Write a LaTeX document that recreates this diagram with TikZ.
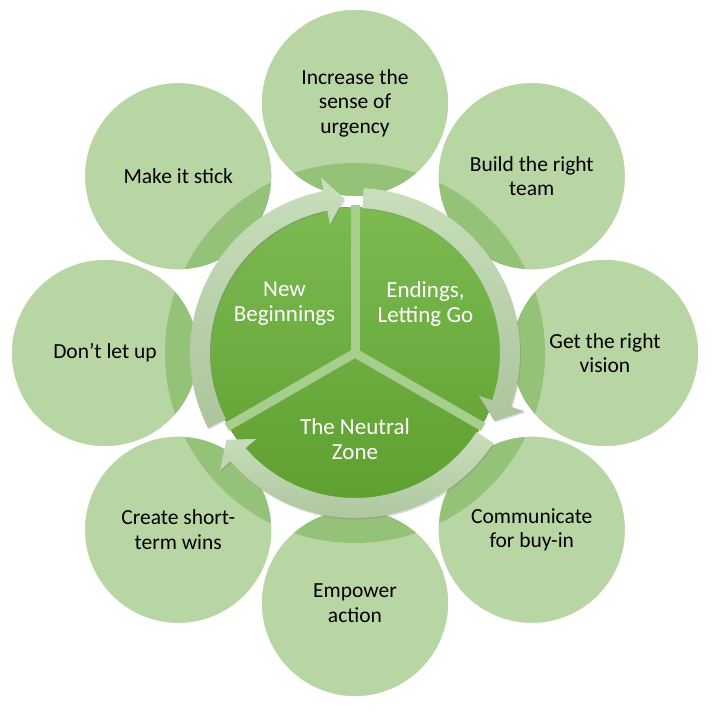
\documentclass[tikz,border=0pt]{standalone}
\usepackage{fontspec}
\setmainfont{Carlito}
\usepackage{tikz}
\usetikzlibrary{positioning,calc,shadows}
\usepackage{xcolor}
\definecolor{petalgreen}{RGB}{184,214,163}
\definecolor{ringgreen}{RGB}{147,194,120}
\definecolor{arrowtop}{RGB}{200,222,188}
\definecolor{arrowbottom}{RGB}{172,197,156}
\definecolor{pietop}{RGB}{124,186,82}
\definecolor{piebottom}{RGB}{95,160,48}
\definecolor{gapgreen}{RGB}{168,206,142}
\tikzset{
    stepcirc/.style={circle, draw=white, line width=1.6pt, minimum size=188pt,
                     inner sep=0pt, align=center,
                     font=\fontsize{21.5}{24.5}\selectfont},
    phase/.style={align=center, text=white, font=\fontsize{23}{25}\selectfont},
    cyclearr/.style={top color=arrowtop, bottom color=arrowbottom,
                     drop shadow={opacity=0.3, shadow xshift=1pt, shadow yshift=-1.5pt}},
}
% ring arrow: #1 tip name, #2 tail angle, #3 tip angle (clockwise)
\newcommand{\ringarrow}[3]{%
    \pgfmathsetmacro{\hb}{#3+7}
    \path[cyclearr] (#2:145) arc[start angle=#2, end angle=\hb, radius=145]
        -- (\hb:131) -- (#3:155) -- (\hb:179) -- (\hb:165)
        arc[start angle=\hb, end angle=#2, radius=165] -- cycle
        coordinate (#1) at (#3:155);
}

\begin{document}
\begin{tikzpicture}[x=1pt, y=1pt]
    \useasboundingbox (-355,-360) rectangle (365,353);

    % petals and the darker ring seen through them
    \foreach \a in {0,45,...,315}
        \fill[petalgreen] (\a:250) circle[radius=94];
    \begin{scope}
        \clip foreach \a in {0,45,...,315} {(\a:250) circle[radius=94]};
        \fill[ringgreen] (0,0) circle[radius=190];
    \end{scope}

    \node[stepcirc] (urgency) at (90:250)   {Increase the\\sense of\\urgency};
    \node[stepcirc] (team)    at (45:250)   {Build the right\\team};
    \node[stepcirc] (vision)  at (0:250)    {Get the right\\vision};
    \node[stepcirc] (buyin)   at (-45:250)  {Communicate\\for buy-in};
    \node[stepcirc] (empower) at (-90:250)  {Empower\\action};
    \node[stepcirc] (wins)    at (-135:250) {Create short-\\term wins};
    \node[stepcirc] (letup)   at (180:250)  {Don’t let up};
    \node[stepcirc] (stick)   at (135:250)  {Make it stick};

    % three phases
    \fill[top color=pietop, bottom color=piebottom] (0,0) circle[radius=146];
    \foreach \a in {90,-30,210}
        \draw[gapgreen, line width=9pt] (0,0) -- (\a:148);

    \ringarrow{tipnb}{207}{94}
    \ringarrow{tipend}{87}{-26}
    \ringarrow{tipneu}{-33}{-146}

    \node[phase] (newbeg)  at (145:86) {New\\Beginnings};
    \node[phase] (endings) at (35:86)  {Endings,\\Letting Go};
    \node[phase] (neutral) at (-90:86) {The Neutral\\Zone};
\end{tikzpicture}
\end{document}
